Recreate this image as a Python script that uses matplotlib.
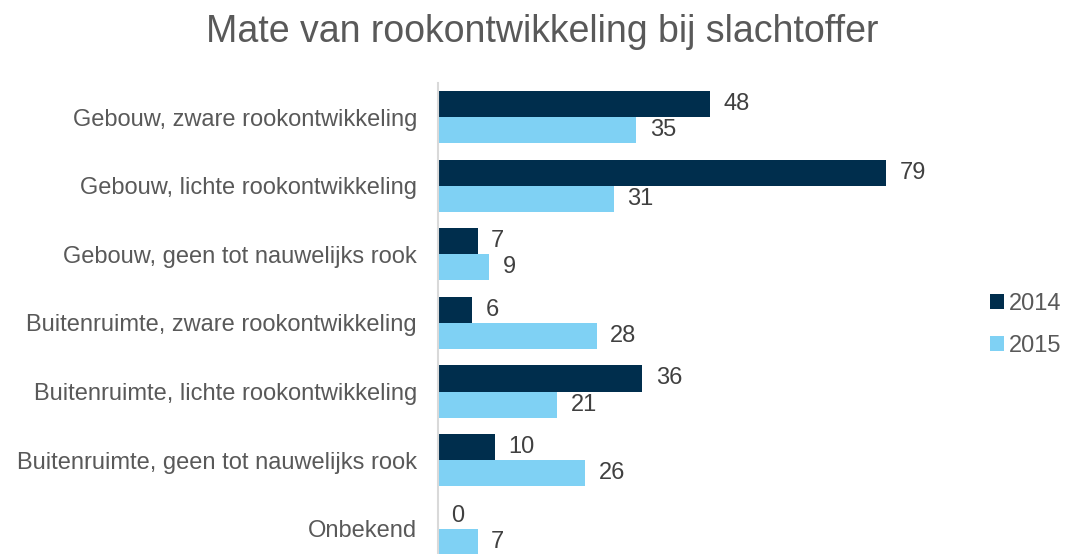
import matplotlib.pyplot as plt
import numpy as np

categories = [
    "Gebouw, zware rookontwikkeling",
    "Gebouw, lichte rookontwikkeling",
    "Gebouw, geen tot nauwelijks rook",
    "Buitenruimte, zware rookontwikkeling",
    "Buitenruimte, lichte rookontwikkeling",
    "Buitenruimte, geen tot nauwelijks rook",
    "Onbekend",
]
values_2014 = [48, 79, 7, 6, 36, 10, 0]
values_2015 = [35, 31, 9, 28, 21, 26, 7]
series_names = ["2014", "2015"]

dark = "#002E4D"
light = "#7FD1F4"
text_col = "#404040"
grey = "#595959"

plt.rcParams['font.family'] = ['Liberation Sans', 'DejaVu Sans']

fig = plt.figure(figsize=(10.68, 5.54), dpi=100)
ax = fig.add_axes([0.410, -0.016, 0.478, 0.866])

y = np.arange(len(categories))
h = 0.38
b1 = ax.barh(y - h / 2, values_2014, height=h, color=dark, label=series_names[0])
b2 = ax.barh(y + h / 2, values_2015, height=h, color=light, label=series_names[1])

# waarde-labels naast de balken
for bars, vals in [(b1, values_2014), (b2, values_2015)]:
    for bar, v in zip(bars, vals):
        ax.text(v + 2.4, bar.get_y() + bar.get_height() / 2, str(v),
                va='center', ha='left', fontsize=17, color=text_col)

ax.set_xlim(0, 90)
ax.set_ylim(len(categories) - 0.5, -0.5)
ax.set_yticks(y)
ax.set_yticklabels(categories, fontsize=17, color=grey)
ax.tick_params(axis='y', length=0, pad=15)
ax.set_xticks([])
for s in ['top', 'right', 'bottom']:
    ax.spines[s].set_visible(False)
ax.spines['left'].set_color('#D9D9D9')
ax.spines['left'].set_linewidth(1.5)

fig.text(0.508, 0.943, "Mate van rookontwikkeling bij slachtoffer",
         ha='center', va='center', fontsize=27, color=grey)

fig.legend(handles=[b1, b2], labels=series_names, loc='center left',
           bbox_to_anchor=(0.907, 0.414), frameon=False, fontsize=17,
           handlelength=0.6, handleheight=0.6, handletextpad=0.2,
           labelspacing=0.85, labelcolor=grey)

fig.savefig("out.png", dpi=100)
